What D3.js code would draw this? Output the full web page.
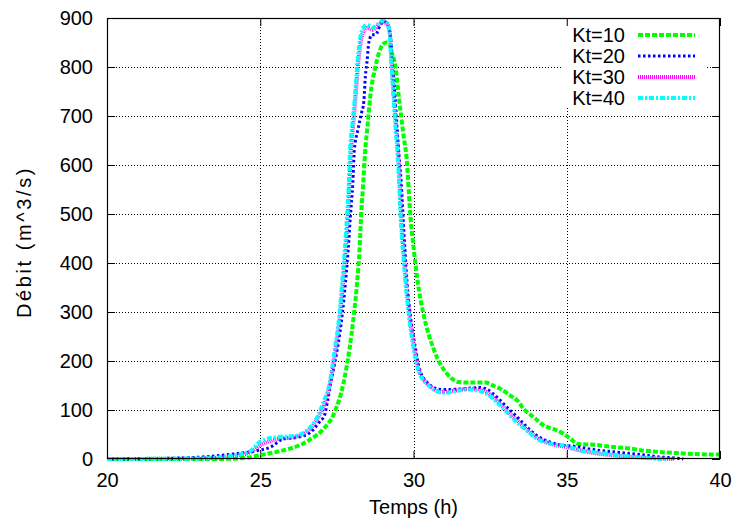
<!DOCTYPE html>
<html><head><meta charset="utf-8">
<script src="https://cdn.jsdelivr.net/npm/d3@7/dist/d3.min.js"></script>
<style>
body{margin:0;background:#fff}
text{font-family:"Liberation Sans",Arial,Helvetica,sans-serif;fill:#000}
</style>
</head><body>
<svg id="c" width="736" height="524"></svg>
<script>
// ---- data ----
const seriesNames = ["Kt=10", "Kt=20", "Kt=30", "Kt=40"];
const xTicks = [20, 25, 30, 35, 40];
const yTicks = [0, 100, 200, 300, 400, 500, 600, 700, 800, 900];
const xLabel = "Temps (h)";
const yLabel = "Débit (m^3/s)";

const t10 = [20,23.5,24.5,25,25.5,25.9,26.2,26.63,27.06,27.4,27.72,27.91,28.05,28.16,28.24,28.29,28.36,28.42,28.5,28.59,28.76,28.88,29.0,29.12,29.22,29.3,29.41,29.52,29.68,29.77,29.9,30.01,30.14,30.34,30.66,31.15,31.48,31.75,32.08,32.35,32.62,32.84,33.17,33.39,33.6,33.93,34.26,34.58,34.91,35.13,35.35,35.9,36.44,36.98,37.53,38.07,38.62,39.16,40];
const q10 = [0,0,2,8,14,20,26,40,61,92,156,224,292,360,428,495,563,625,680,740,801,830,846,850,846,828,801,740,658,617,495,428,360,292,224,170,157,156,156,156,149,143,129,119,102,85,68,61,51,41,31,29,25,22,17,14,12,10,9];

const t20 = [20,22.4,24.1,24.89,25.33,25.76,26.2,26.63,26.96,27.09,27.2,27.3,27.42,27.53,27.67,27.78,27.87,27.94,28.02,28.07,28.18,28.3,28.38,28.43,28.49,28.54,28.65,28.76,28.92,29.03,29.16,29.25,29.3,29.39,29.46,29.53,29.6,29.66,29.72,29.79,29.9,30.07,30.17,30.45,30.88,31.21,31.75,32.19,32.41,32.74,33.06,33.39,33.72,34.04,34.48,35.02,35.24,35.67,36.44,36.98,37.53,38.07,38.62,38.8];
const q20 = [0,2,10,17,24,41,44,54,78,88,120,155,192,230,292,360,428,495,563,631,670,705,730,781,815,849,866,866,886,893,886,862,815,747,679,617,563,495,428,360,292,224,190,156,142,142,144,146,142,125,105,85,64,47,34,27,26,21,15,12,8,4,1.5,0];

const t30 = [20,23,24.2,24.7,25.0,25.5,26.1,26.5,26.9,27.08,27.28,27.46,27.6,27.7,27.79,27.86,27.91,27.96,28.03,28.12,28.2,28.29,28.4,28.5,28.66,28.86,29.01,29.16,29.24,29.28,29.35,29.43,29.49,29.55,29.6,29.67,29.76,29.87,30.03,30.14,30.41,30.95,31.4,31.76,32.1,32.42,32.74,33.06,33.39,33.72,34.04,34.48,35.02,35.4,35.9,36.8,37.8,38.5];
const q30 = [0,1,7,15,28,40,45,55,86,110,156,224,292,360,428,495,563,631,680,747,810,855,876,880,876,886,892,886,862,815,747,679,631,563,495,428,360,292,224,190,156,137,140,143,142,135,118,98,78,59,43,31,24,18,12,6,2,0];

const t40 = [20,23,24.2,24.67,25.0,25.55,26.1,26.48,26.88,27.06,27.27,27.43,27.58,27.67,27.76,27.83,27.89,27.93,28.0,28.1,28.18,28.27,28.38,28.49,28.65,28.87,29.01,29.16,29.23,29.27,29.34,29.41,29.47,29.53,29.58,29.65,29.74,29.85,30.01,30.12,30.39,30.99,31.43,31.76,32.08,32.41,32.74,33.06,33.39,33.72,34.04,34.48,35.02,35.46,35.9,36.76,37.85,38.3];
const q40 = [0,1,8,16,35,45,47,56,88,116,156,224,292,360,428,495,563,631,680,747,815,862,882,886,880,889,895,886,862,815,747,679,631,563,495,428,360,292,224,190,156,135,139,142,140,132,115,95,74,57,41,31,26,17,14,7,1,0];

// ---- styles ----
const colors = ["#00ff00", "#0000ff", "#ff00ff", "#00ffff"];
const dashes = ["5,2", "2.5,2.5", "1,1", "5,2,2,2"];
const widths = [4, 3, 4, 4];

const series = [[t10,q10],[t20,q20],[t30,q30],[t40,q40]].map((d,i)=>({
  name: seriesNames[i], pts: d[0].map((t,j)=>[t, d[1][j]])
}));

const svg = d3.select("#c");
const L = 107, R = 720, T = 18, B = 459;
const x = d3.scaleLinear().domain([20, 40]).range([L, R]);
const y = d3.scaleLinear().domain([0, 900]).range([B, T]);

// grid
const grid = svg.append("g").attr("stroke", "#000").attr("stroke-width", 1).attr("stroke-dasharray", "1,2");
xTicks.filter(v => v > 20 && v < 40).forEach(v => {
  grid.append("line").attr("x1", Math.round(x(v))+0.5).attr("x2", Math.round(x(v))+0.5).attr("y1", T).attr("y2", B);
});
yTicks.filter(v => v > 0 && v < 900).forEach(v => {
  grid.append("line").attr("y1", Math.round(y(v))+0.5).attr("y2", Math.round(y(v))+0.5).attr("x1", L).attr("x2", R);
});

// legend background (opaque key)
svg.append("rect").attr("x", 563).attr("y", T).attr("width", 144).attr("height", 89).attr("fill", "#fff");

// axes with inward ticks on all sides
const tl = 8;
svg.append("g").attr("transform", `translate(0,${B})`)
  .call(d3.axisBottom(x).tickValues(xTicks).tickSize(-tl).tickPadding(14).tickFormat(d3.format("d")))
  .call(g => { g.select(".domain").remove(); g.selectAll("text").attr("font-size", 20); });
svg.append("g").attr("transform", `translate(0,${T})`)
  .call(d3.axisTop(x).tickValues(xTicks).tickSize(-tl).tickFormat(""))
  .call(g => g.select(".domain").remove());
svg.append("g").attr("transform", `translate(${L},0)`)
  .call(d3.axisLeft(y).tickValues(yTicks).tickSize(-tl).tickPadding(14).tickFormat(d3.format("d")))
  .call(g => { g.select(".domain").remove(); g.selectAll("text").attr("font-size", 20); });
svg.append("g").attr("transform", `translate(${R},0)`)
  .call(d3.axisRight(y).tickValues(yTicks).tickSize(-tl).tickFormat(""))
  .call(g => g.select(".domain").remove());
svg.selectAll(".tick line").attr("stroke", "#000");

// curves
const line = d3.line().x(d => x(d[0])).y(d => y(d[1])).curve(d3.curveMonotoneX);
series.forEach((s, i) => {
  svg.append("path").datum(s.pts).attr("d", line)
    .attr("fill", "none").attr("stroke", colors[i]).attr("stroke-width", widths[i])
    .attr("stroke-dasharray", dashes[i]).attr("stroke-linejoin", "round");
});

// frame
svg.append("rect").attr("x", L+0.5).attr("y", T+0.5).attr("width", R-L-1).attr("height", B-T-1)
  .attr("fill", "none").attr("stroke", "#000").attr("stroke-width", 1.2);

// legend
series.forEach((s, i) => {
  const yy = 35 + i * 21;
  svg.append("text").attr("x", 625).attr("y", yy + 7).attr("text-anchor", "end").attr("font-size", 20).text(s.name);
  svg.append("line").attr("x1", 638).attr("x2", 695).attr("y1", yy).attr("y2", yy)
    .attr("stroke", colors[i]).attr("stroke-width", widths[i]).attr("stroke-dasharray", dashes[i]);
});

// axis labels
svg.append("text").attr("x", (L+R)/2).attr("y", 514).attr("text-anchor", "middle").attr("font-size", 20).text(xLabel);
svg.append("text").attr("transform", `translate(31,242) rotate(-90)`).attr("text-anchor", "middle")
  .attr("font-size", 20).attr("letter-spacing", 2.6).text(yLabel);
</script>
</body></html>
